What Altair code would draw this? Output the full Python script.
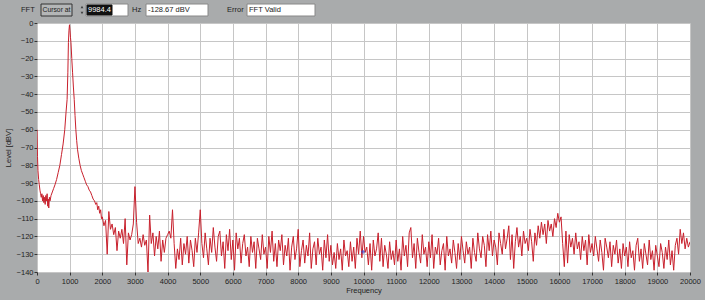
import altair as alt
import pandas as pd

# ---- data: low-frequency part (Hz, dBV) ----
low_freq = [0, 15, 30, 50, 70, 90, 110, 130, 150, 170, 190, 210, 230, 250, 270, 290, 310, 330, 345, 360,
            380, 400, 430, 470, 510, 550, 600, 650, 700, 750, 800, 850, 890, 922, 945, 962, 980, 995,
            1010, 1025, 1040, 1065, 1090, 1115, 1140, 1165, 1190, 1215, 1240, 1280, 1320, 1360, 1400,
            1440, 1480, 1520, 1560, 1600, 1640, 1680, 1720, 1760, 1800, 1830, 1860, 1890, 1920, 1950, 1975]
low_level = [-60, -75, -83, -88, -91, -94, -96, -98, -96, -100, -97, -101, -98, -102, -97, -100, -96, -103, -99, -104,
             -98, -100, -97, -95, -93, -91, -88, -84, -80, -74, -68, -60, -50, -43, -28, -11, -4, -1,
             -4, -8, -11, -20, -28, -36, -43, -52, -60, -66, -71, -76, -80, -83, -85,
             -87, -89, -91, -92, -94, -95, -97, -99, -100, -102, -101, -105, -103, -107, -105, -110]

# ---- noise floor, 50 Hz bins, one list per kHz block ----
noise_blocks = {
    2000: [-109, -114, -111, -130, -106, -116, -113, -119, -115, -128, -117, -121, -116, -124, -110, -136, -118, -122, -119, -113],
    3000: [-92, -112, -124, -121, -126, -119, -125, -122, -140, -108, -124, -118, -131, -120, -127, -117, -134, -122, -129, -121],
    4000: [-119, -117, -121, -105, -124, -138, -127, -133, -121, -136, -124, -130, -120, -135, -122, -128, -137, -121, -129, -118],
    5000: [-105, -124, -132, -118, -127, -136, -121, -129, -115, -126, -134, -120, -117, -131, -123, -138, -119, -128, -116, -133],
    6000: [-122, -139, -118, -127, -121, -135, -124, -119, -131, -126, -137, -120, -129, -123, -138, -121, -127, -133, -119, -130],
    7000: [-126, -138, -120, -129, -117, -134, -124, -137, -122, -128, -119, -136, -125, -131, -121, -139, -126, -120, -133, -127],
    8000: [-116, -137, -128, -122, -135, -125, -131, -118, -138, -127, -123, -136, -121, -130, -126, -139, -122, -132, -119, -134],
    9000: [-125, -136, -129, -138, -124, -133, -127, -139, -122, -131, -128, -137, -123, -134, -126, -138, -121, -130, -117, -132],
    10000: [-120, -129, -126, -136, -124, -139, -122, -131, -127, -118, -134, -121, -137, -125, -130, -138, -123, -133, -128, -136],
    11000: [-122, -134, -127, -139, -120, -131, -125, -137, -118, -115, -132, -124, -138, -121, -129, -135, -119, -130, -126, -137],
    12000: [-123, -132, -119, -138, -126, -130, -121, -136, -128, -124, -139, -120, -131, -127, -135, -122, -129, -138, -124, -133],
    13000: [-120, -128, -135, -123, -130, -126, -138, -121, -129, -134, -118, -127, -132, -120, -125, -137, -119, -128, -117, -131],
    14000: [-122, -126, -136, -118, -124, -130, -116, -127, -121, -114, -133, -119, -138, -123, -115, -126, -120, -131, -117, -124],
    15000: [-121, -128, -116, -123, -134, -118, -125, -114, -121, -112, -119, -113, -124, -111, -117, -113, -120, -110, -115, -107],
    16000: [-112, -109, -124, -137, -117, -135, -119, -126, -121, -130, -118, -127, -123, -133, -120, -128, -122, -136, -119, -129],
    17000: [-124, -131, -120, -127, -134, -122, -129, -139, -121, -126, -132, -123, -137, -125, -130, -122, -135, -127, -138, -124],
    18000: [-131, -126, -137, -123, -132, -128, -139, -125, -121, -134, -127, -138, -124, -130, -136, -122, -133, -128, -139, -125],
    19000: [-131, -137, -124, -129, -138, -126, -133, -122, -136, -128, -139, -125, -121, -130, -116, -124, -118, -127, -121, -126, -123],
}

cursor_freq = [9984.4]
cursor_level = [-128.67]

x_ticks = list(range(0, 20001, 1000))
y_ticks = list(range(-140, 1, 10))

freqs = list(low_freq)
levels = list(low_level)
for start, vals in noise_blocks.items():
    for i, v in enumerate(vals):
        freqs.append(start + 50 * i)
        levels.append(v)

df = pd.DataFrame({"Frequency": freqs, "Level": levels})
cur = pd.DataFrame({"Frequency": cursor_freq, "Level": cursor_level})

xs = alt.Scale(domain=[0, 20000], nice=False, zero=False)
ys = alt.Scale(domain=[-140, 0], nice=False, zero=False)

FONT = "Liberation Sans"
FS = 7.5

x_axis = alt.Axis(values=x_ticks, format="d", grid=True, gridColor="#c6c6c6",
                  tickColor="#333", tickSize=3, domain=False, labelFontSize=FS,
                  labelColor="#222", titleFontSize=FS, titleFontWeight="normal",
                  titleColor="#222", labelPadding=2, titlePadding=2, labelFont=FONT,
                  titleFont=FONT, labelOverlap=False, labelFlush=False, tickCount=21)
y_axis = alt.Axis(values=y_ticks, grid=True, gridColor="#c6c6c6", tickColor="#333",
                  tickSize=3, domain=False, labelFontSize=FS, labelColor="#222",
                  titleFontSize=FS, titleFontWeight="normal", titleColor="#222",
                  labelPadding=1, titlePadding=4, labelFont=FONT, titleFont=FONT,
                  labelOverlap=False, labelFlush=False, tickCount=15)

line = alt.Chart(df).mark_line(color="#c8202c", strokeWidth=1, clip=True).encode(
    x=alt.X("Frequency:Q", scale=xs, title="Frequency", axis=x_axis),
    y=alt.Y("Level:Q", scale=ys, title="Level [dBV]", axis=y_axis),
)

cursor = alt.Chart(cur).mark_point(shape="cross", color="#3040d0", size=14, filled=True).encode(
    x=alt.X("Frequency:Q", scale=xs, title="Frequency", axis=x_axis),
    y=alt.Y("Level:Q", scale=ys, title="Level [dBV]", axis=y_axis),
)

one = pd.DataFrame({"k": [0]})
base = alt.Chart(one)

def box(x1, x2, y1, y2, fill, stroke):
    return base.mark_rect(fill=fill, stroke=stroke, strokeWidth=1).encode(
        x=alt.value(x1), x2=alt.value(x2), y=alt.value(y1), y2=alt.value(y2))

def label(x, y, s, color="#222", size=FS):
    return base.mark_text(text=s, align="left", baseline="middle", fontSize=size, font=FONT,
                          color=color).encode(x=alt.value(x), y=alt.value(y))

ox, oy = 37, 23  # plot origin in page pixels
ui = [
    label(21 - ox, 10 - oy, "FFT"),
    box(41 - ox, 72 - ox, 4 - oy, 16 - oy, "#b4b6b7", "#333"),
    label(42.5 - ox, 10 - oy, "Cursor at", size=6.8),
    base.mark_point(shape="triangle-up", filled=True, color="#111", size=8).encode(
        x=alt.value(82 - ox), y=alt.value(7 - oy)),
    base.mark_point(shape="triangle-down", filled=True, color="#111", size=8).encode(
        x=alt.value(82 - ox), y=alt.value(13 - oy)),
    box(86 - ox, 128 - ox, 4 - oy, 16 - oy, "white", "#888"),
    box(87 - ox, 112 - ox, 5 - oy, 15 - oy, "#111", "#111"),
    label(88 - ox, 10 - oy, "9984.4", color="white"),
    label(132 - ox, 10 - oy, "Hz"),
    box(146 - ox, 208 - ox, 4 - oy, 16 - oy, "white", "#888"),
    label(148 - ox, 10 - oy, "-128.67 dBV"),
    label(227 - ox, 10 - oy, "Error"),
    box(247 - ox, 315 - ox, 4 - oy, 16 - oy, "white", "#888"),
    label(249 - ox, 10 - oy, "FFT Valid"),
]

chart = alt.layer(line, cursor, *ui).properties(
    width=653, height=249,
    autosize=alt.AutoSizeParams(type="none"),
    padding={"left": 37, "top": 23, "right": 15, "bottom": 28},
    background="#a9abac",
).configure_view(fill="white", stroke=None)

chart.save("out.html", embed_options={"renderer": "svg", "actions": False})
